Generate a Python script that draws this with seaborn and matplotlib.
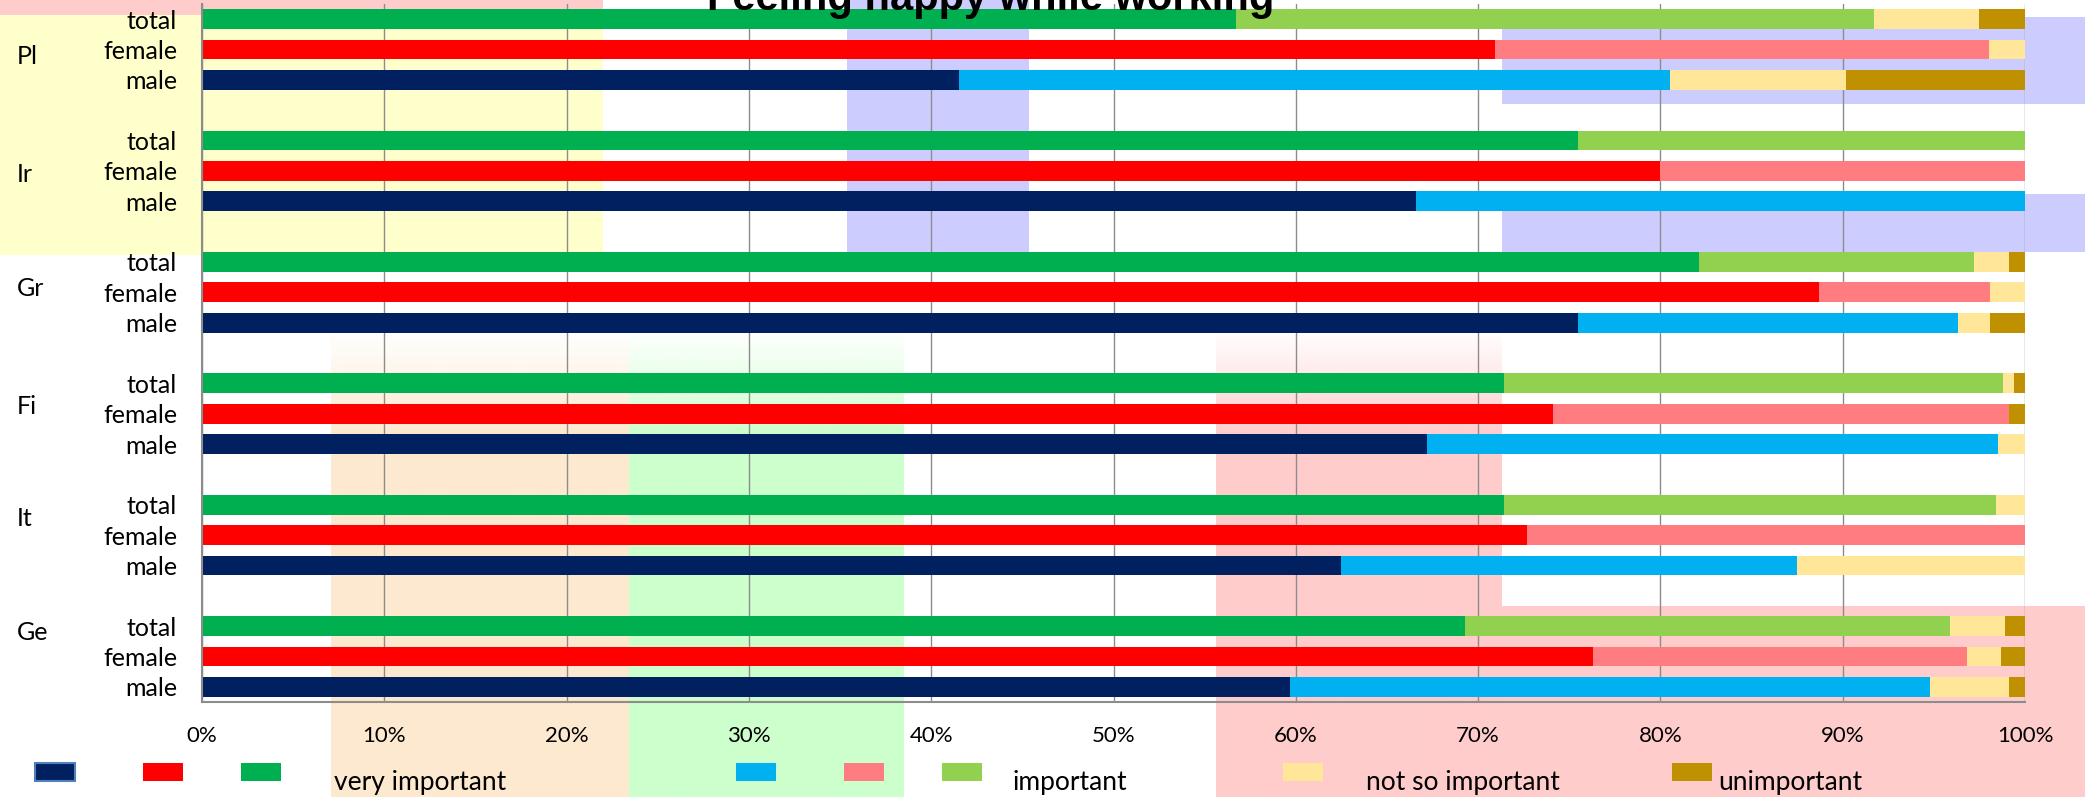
import numpy as np
import pandas as pd
import matplotlib
matplotlib.use("Agg")
import matplotlib.pyplot as plt
from matplotlib.patches import Rectangle
import seaborn as sns

# ---------------- data ----------------
countries = ["Pl", "Ir", "Gr", "Fi", "It", "Ge"]
groups = ["total", "female", "male"]
# order: for each country -> total, female, male (percent)
very_important = [56.7, 70.9, 41.5,
                  75.5, 80.0, 66.6,
                  82.1, 88.7, 75.5,
                  71.4, 74.1, 67.2,
                  71.4, 72.7, 62.5,
                  69.3, 76.3, 59.7]
important = [35.0, 27.1, 39.0,
             24.5, 20.0, 33.4,
             15.1, 9.4, 20.8,
             27.4, 25.0, 31.3,
             27.0, 27.3, 25.0,
             26.6, 20.5, 35.1]
not_so_important = [5.8, 2.0, 9.7,
                    0.0, 0.0, 0.0,
                    1.9, 1.9, 1.8,
                    0.6, 0.0, 1.5,
                    1.6, 0.0, 12.5,
                    3.0, 1.9, 4.3]
unimportant = [2.5, 0.0, 9.8,
               0.0, 0.0, 0.0,
               0.9, 0.0, 1.9,
               0.6, 0.9, 0.0,
               0.0, 0.0, 0.0,
               1.1, 1.3, 0.9]
x_ticks = [0, 10, 20, 30, 40, 50, 60, 70, 80, 90, 100]
x_tick_labels = ["0%", "10%", "20%", "30%", "40%", "50%", "60%", "70%", "80%", "90%", "100%"]
legend_labels = ["very important", "important", "not so important", "unimportant"]
title = "Feeling happy while working"

# ---------------- style ----------------
sns.set_theme(style="white")
plt.rcParams["font.family"] = ["Lato", "DejaVu Sans"]

W, H = 2085, 797
fig = plt.figure(figsize=(W / 100, H / 100), dpi=100, facecolor="white")

# background (pixel coordinate) axes for the coloured overlays
bg = fig.add_axes([0, 0, 1, 1], zorder=-1)
bg.set_xlim(0, W)
bg.set_ylim(H, 0)
bg.axis("off")

PINK = "#FFCCCC"
YEL = "#FFFFCC"
LAV = "#CCCCFF"
ORA = "#FDE9D0"
GRN = "#CCFFCC"

def rect(x0, y0, x1, y1, c):
    bg.add_patch(Rectangle((x0, y0), x1 - x0, y1 - y0, facecolor=c, edgecolor="none", lw=0))

rect(0, 0, 603, 15, PINK)
rect(0, 15, 603, 255, YEL)
rect(847, 0, 1029, 252, LAV)
rect(1502, 17, W, 104, LAV)
rect(1502, 194, W, 252, LAV)
rect(1502, 606, W, H, PINK)

def grad(x0, x1, y0, y1, c, fade=105):
    rgb = np.array(matplotlib.colors.to_rgb(c))
    ys = np.arange(y0, y1)
    a = np.clip((ys - y0) / fade, 0, 1)
    arr = np.zeros((len(ys), 1, 4))
    arr[:, 0, :3] = rgb
    arr[:, 0, 3] = a
    bg.imshow(arr, extent=(x0, x1, y1, y0), aspect="auto", interpolation="bilinear", origin="upper")

grad(331, 629, 330, H, ORA)
grad(629, 904, 330, H, GRN)
grad(1216, 1502, 330, H, PINK)
bg.set_xlim(0, W)
bg.set_ylim(H, 0)

# ---------------- main axes ----------------
left, right, top, bottom = 202, 2025, 4, 702
ax = fig.add_axes([left / W, 1 - bottom / H, (right - left) / W, (bottom - top) / H], zorder=0)
ax.set_facecolor("none")

pos = [4 * i + j for i in range(len(countries)) for j in range(len(groups))]
df = pd.DataFrame({
    "pos": pos,
    "gender": groups * len(countries),
    "c1": very_important,
})
df["c2"] = df["c1"] + np.array(important)
df["c3"] = df["c2"] + np.array(not_so_important)
df["c4"] = df["c3"] + np.array(unimportant)

pal_very = {"total": "#00B050", "female": "#FF0000", "male": "#002060"}
pal_imp = {"total": "#92D050", "female": "#FF7C80", "male": "#00B0F0"}
pal_nsi = {g: "#FFE699" for g in groups}
pal_unimp = {g: "#BF9000" for g in groups}

for col, pal in [("c4", pal_unimp), ("c3", pal_nsi), ("c2", pal_imp), ("c1", pal_very)]:
    sns.barplot(data=df, x=col, y="pos", hue="gender", palette=pal, orient="h",
                native_scale=True, dodge=False, width=0.65, errorbar=None,
                saturation=1, legend=False, linewidth=0, ax=ax)

ax.set_xlim(0, 100)
ax.set_ylim(22.5, -0.5)
ax.set_xlabel("")
ax.set_ylabel("")
ax.set_xticks(x_ticks, x_tick_labels)
ax.set_yticks(pos, groups * len(countries))
ax.tick_params(axis="x", length=0, pad=17, labelsize=16, colors="black")
ax.tick_params(axis="y", length=0, pad=18, labelsize=18, colors="black")
ax.grid(axis="x", color="#8C8C8C", lw=1)
ax.grid(axis="y", visible=False)
ax.set_axisbelow(True)
for s in ["top", "right"]:
    ax.spines[s].set_visible(False)
for s in ["left", "bottom"]:
    ax.spines[s].set_color("#8C8C8C")
    ax.spines[s].set_linewidth(1.5)

# country labels
country_y = [57, 174, 289, 406, 518, 633]
for name, yc in zip(countries, country_y):
    fig.text(17 / W, 1 - yc / H, name, ha="left", va="center", fontsize=18, color="black")

# title (cut at top as in the reference)
fig.text(991 / W, 1 - 10 / H, title, ha="center", va="baseline", fontsize=30,
         fontweight="bold", family=["Liberation Sans", "DejaVu Sans"], color="black", zorder=5)

# legend
squares = [(35, "#002060"), (143, "#FF0000"), (241, "#00B050"),
           (736, "#00B0F0"), (844, "#FF7C80"), (942, "#92D050"),
           (1283, "#FFE699"), (1672, "#BF9000")]
for x0, c in squares:
    ec = "#4F81BD" if c == "#002060" else "none"
    bg.add_patch(Rectangle((x0, 763), 40, 18, facecolor=c, edgecolor=ec, lw=1.5, zorder=3))
legend_x = [334, 1012, 1366, 1718]
for lx, lab in zip(legend_x, legend_labels):
    bg.text(lx, 790, lab, ha="left", va="baseline", fontsize=19, color="black", zorder=3)

fig.savefig("out.png", dpi=100, facecolor="white")
